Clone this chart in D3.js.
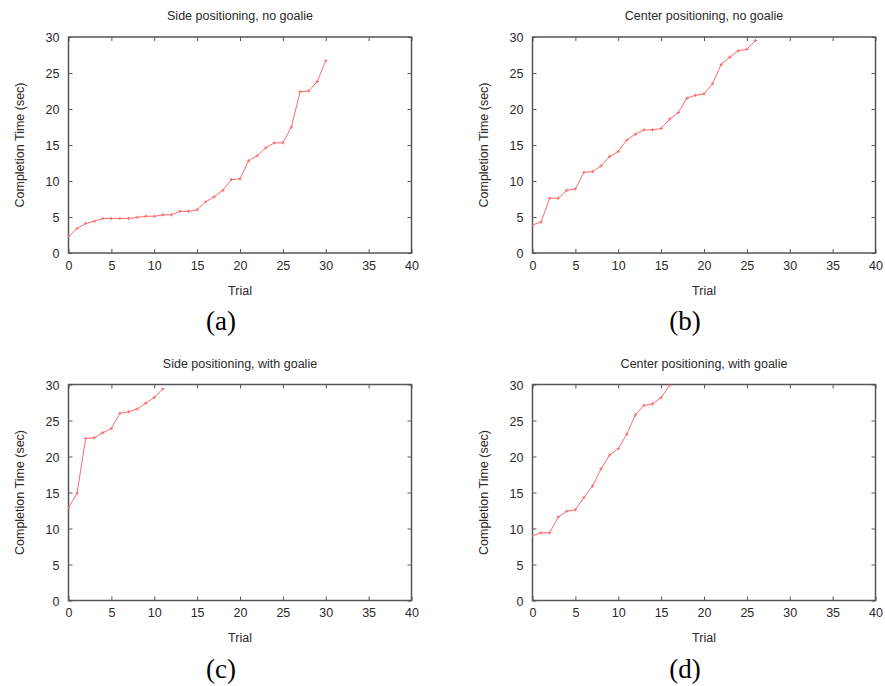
<!DOCTYPE html>
<html><head><meta charset="utf-8">
<script src="https://cdn.jsdelivr.net/npm/d3@7"></script>
<style>
html,body{margin:0;padding:0;background:#fff;}
svg{display:block;}
</style></head>
<body>
<svg id="chart" width="885" height="686"></svg>
<script>
// ---- data ----
const titles = ["Side positioning, no goalie", "Center positioning, no goalie", "Side positioning, with goalie", "Center positioning, with goalie"];
const panelLabels = ["(a)", "(b)", "(c)", "(d)"];
const xTicks = [0, 5, 10, 15, 20, 25, 30, 35, 40];
const yTicks = [0, 5, 10, 15, 20, 25, 30];
const xLabel = "Trial";
const yLabel = "Completion Time (sec)";

const sideNoGoalie = [2.3, 3.4, 4.1, 4.4, 4.8, 4.8, 4.8, 4.8, 4.95, 5.1, 5.1, 5.3, 5.3, 5.8, 5.8, 6.0, 7.1, 7.8, 8.7, 10.2, 10.3, 12.8, 13.5, 14.6, 15.3, 15.3, 17.5, 22.4, 22.5, 23.8, 26.7];
const centerNoGoalie = [3.9, 4.3, 7.6, 7.6, 8.7, 8.9, 11.2, 11.3, 12.1, 13.4, 14.1, 15.7, 16.5, 17.1, 17.1, 17.3, 18.6, 19.5, 21.5, 21.9, 22.1, 23.5, 26.2, 27.2, 28.1, 28.3, 29.5];
const sideWithGoalie = [12.9, 14.9, 22.5, 22.6, 23.3, 23.9, 26.0, 26.2, 26.6, 27.4, 28.2, 29.4];
const centerWithGoalie = [9.0, 9.4, 9.4, 11.6, 12.4, 12.6, 14.3, 15.9, 18.3, 20.2, 21.1, 23.1, 25.8, 27.1, 27.3, 28.2, 29.9];

const seriesList = [sideNoGoalie, centerNoGoalie, sideWithGoalie, centerWithGoalie];

// ---- layout ----
const panels = [
  {left: 68.5, top: 37},
  {left: 532.5, top: 37},
  {left: 68.5, top: 384.5},
  {left: 532.5, top: 384.5}
];
const W = 343, H = 216;
const sansFont = "'Liberation Sans', Arial, sans-serif";
const serifFont = "'Liberation Serif', 'Times New Roman', serif";
const frameColor = "#555";
const textColor = "#2a2a2a";
const lineColor = "#ff6a6a";

const svg = d3.select("#chart");

seriesList.forEach((vals, i) => {
  const p = panels[i];
  const g = svg.append("g").attr("transform", `translate(${p.left},${p.top})`);
  const x = d3.scaleLinear().domain([0, 40]).range([0, W]);
  const y = d3.scaleLinear().domain([0, 30]).range([H, 0]);

  const cid = "clip" + i;
  g.append("clipPath").attr("id", cid).append("rect").attr("x", 0).attr("y", 0).attr("width", W).attr("height", H);

  const tickLen = 4;
  const bottomAxis = d3.axisBottom(x).tickValues(xTicks).tickSize(-tickLen).tickPadding(8).tickFormat(d3.format("d"));
  const topAxis = d3.axisTop(x).tickValues(xTicks).tickSize(-tickLen).tickFormat("");
  const leftAxis = d3.axisLeft(y).tickValues(yTicks).tickSize(-tickLen).tickPadding(9).tickFormat(d3.format("d"));
  const rightAxis = d3.axisRight(y).tickValues(yTicks).tickSize(-tickLen).tickFormat("");

  const gb = g.append("g").attr("transform", `translate(0,${H})`).call(bottomAxis);
  const gt = g.append("g").call(topAxis);
  const gl = g.append("g").call(leftAxis);
  const gr = g.append("g").attr("transform", `translate(${W},0)`).call(rightAxis);
  [gb, gt, gl, gr].forEach(a => {
    a.select(".domain").remove();
    a.selectAll(".tick line").attr("stroke", frameColor).attr("stroke-width", 1);
    a.selectAll(".tick text").attr("fill", textColor).style("font-family", sansFont).style("font-size", "12.5px");
  });
  gb.selectAll(".tick text").attr("dy", "0.71em");
  gl.selectAll(".tick text").attr("dy", "0.36em");

  g.append("rect").attr("x", 0).attr("y", 0).attr("width", W).attr("height", H)
    .attr("fill", "none").attr("stroke", frameColor).attr("stroke-width", 1.5);

  const pts = vals.map((v, k) => [k, v]);
  const line = d3.line().x(d => x(d[0])).y(d => y(d[1]));
  const dg = g.append("g").attr("clip-path", `url(#${cid})`);
  dg.append("path").datum(pts).attr("d", line)
    .attr("fill", "none").attr("stroke", lineColor).attr("stroke-width", 1);
  const m = 1.6;
  dg.selectAll("path.pt").data(pts).enter().append("path").attr("class", "pt")
    .attr("d", d => {
      const cx = x(d[0]), cy = y(d[1]);
      return `M${cx - m},${cy}H${cx + m}M${cx},${cy - m}V${cy + m}`;
    })
    .attr("stroke", lineColor).attr("stroke-width", 1);

  g.append("text").attr("x", W / 2).attr("y", -17).attr("text-anchor", "middle")
    .attr("fill", textColor).style("font-family", sansFont).style("font-size", "12.5px")
    .text(titles[i]);
  g.append("text").attr("x", W / 2).attr("y", H + 41.5).attr("text-anchor", "middle")
    .attr("fill", textColor).style("font-family", sansFont).style("font-size", "12.5px")
    .text(xLabel);
  g.append("text").attr("transform", `translate(-45,${H / 2}) rotate(-90)`).attr("text-anchor", "middle")
    .attr("fill", textColor).style("font-family", sansFont).style("font-size", "12.5px")
    .text(yLabel);
  g.append("text").attr("x", W / 2 - 19).attr("y", H + 77).attr("text-anchor", "middle")
    .attr("fill", "#000").style("font-family", serifFont).style("font-size", "27px")
    .text(panelLabels[i]);
});
</script>
</body></html>
